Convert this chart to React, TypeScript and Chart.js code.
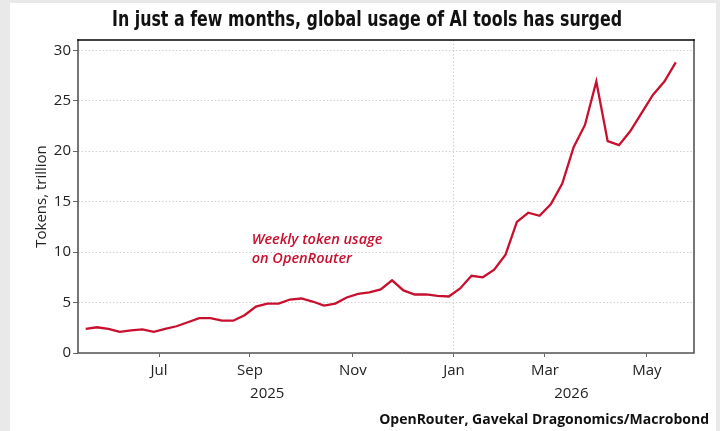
import React, { useEffect, useRef } from "react";
import { Chart, registerables } from "chart.js";

Chart.register(...registerables);

// ---- data (weekly, index 0 = late May 2025) ----
const tokensTrillion = [
  2.4, 2.55, 2.4, 2.1, 2.25, 2.35, 2.1, 2.4, 2.65, 3.05,
  3.45, 3.45, 3.2, 3.2, 3.75, 4.6, 4.9, 4.9, 5.3, 5.4,
  5.1, 4.7, 4.9, 5.5, 5.85, 6.0, 6.3, 7.2, 6.2, 5.8,
  5.8, 5.67, 5.6, 6.4, 7.65, 7.5, 8.25, 9.75, 13.0, 13.9,
  13.6, 14.75, 16.8, 20.4, 22.6, 26.9, 21.0, 20.6, 22.0, 23.8,
  25.6, 26.9, 28.8,
];
const monthTickPos = [6.46, 14.47, 23.55, 32.45, 40.47, 49.46];
const monthTickLabels = ["Jul", "Sep", "Nov", "Jan", "Mar", "May"];
const yearTickPos = [16.0, 42.8];
const yearTickLabels = ["2025", "2026"];
const yearBoundary = 32.45;
const yTicks = [0, 5, 10, 15, 20, 25, 30];
const annotationLines = ["Weekly token usage", "on OpenRouter"];
const annotationX = 14.63;
const annotationY = [11.2, 9.3];

const TITLE = "In just a few months, global usage of AI tools has surged";
const SOURCE = "OpenRouter, Gavekal Dragonomics/Macrobond";
const Y_TITLE = "Tokens, trillion";

const RED = "#c8102e";
const BASE_FONT = '"Open Sans", "Noto Sans", sans-serif';
const TITLE_FONT = '"Liberation Sans Narrow", "DejaVu Sans Condensed", "Open Sans", sans-serif';

export default function App() {
  const canvasRef = useRef<HTMLCanvasElement | null>(null);

  useEffect(() => {
    document.body.style.margin = "0";
    const canvas = canvasRef.current;
    if (!canvas) return;

    const framePlugin = {
      id: "frame",
      beforeDatasetsDraw(chart: any) {
        const { ctx, chartArea: a } = chart;
        ctx.save();
        ctx.lineCap = "square";
        ctx.strokeStyle = "#555";
        ctx.lineWidth = 1.6;
        ctx.beginPath();
        ctx.moveTo(a.left, a.top);
        ctx.lineTo(a.left, a.bottom);
        ctx.lineTo(a.right, a.bottom);
        ctx.lineTo(a.right, a.top);
        ctx.stroke();
        ctx.strokeStyle = "#000";
        ctx.lineWidth = 1.6;
        ctx.beginPath();
        ctx.moveTo(a.left, a.top);
        ctx.lineTo(a.right, a.top);
        ctx.stroke();
        ctx.restore();
      },
    };

    const textPlugin = {
      id: "texts",
      afterDraw(chart: any) {
        const { ctx, scales } = chart;
        ctx.save();
        ctx.fillStyle = "#111";
        ctx.font = `bold 21px ${TITLE_FONT}`;
        ctx.textAlign = "center";
        ctx.textBaseline = "alphabetic";
        const w = ctx.measureText(TITLE).width;
        const sx = Math.min(1, 510 / w);
        ctx.save();
        ctx.scale(sx, 1);
        ctx.fillText(TITLE, 367 / sx, 26);
        ctx.restore();
        ctx.font = `bold 14px ${BASE_FONT}`;
        ctx.textAlign = "right";
        ctx.fillText(SOURCE, 709, 424);
        ctx.fillStyle = RED;
        ctx.font = `italic 600 14.5px ${BASE_FONT}`;
        ctx.textAlign = "left";
        ctx.textBaseline = "middle";
        const ax = scales.x.getPixelForValue(annotationX);
        annotationLines.forEach((t, i) => {
          ctx.fillText(t, ax, scales.y.getPixelForValue(annotationY[i]));
        });
        ctx.restore();
      },
    };

    const chart = new Chart(canvas, {
      type: "line",
      data: {
        datasets: [
          {
            label: "Weekly token usage on OpenRouter",
            data: tokensTrillion.map((v, i) => ({ x: i, y: v })),
            borderColor: RED,
            borderWidth: 2.3,
            pointRadius: 0,
            tension: 0,
            fill: false,
          },
        ],
      },
      options: {
        responsive: false,
        animation: false,
        layout: { padding: { left: 0, right: 26, top: 40, bottom: 25 } },
        plugins: {
          legend: { display: false },
          tooltip: { enabled: false },
          title: { display: false },
        },
        scales: {
          x: {
            type: "linear",
            min: -0.68,
            max: 53.61,
            afterBuildTicks: (s: any) => {
              s.ticks = monthTickPos.map((v) => ({ value: v }));
            },
            afterFit: (s: any) => {
              s.height = 26;
            },
            ticks: {
              autoSkip: false,
              maxRotation: 0,
              padding: 5,
              color: "#222",
              font: { family: BASE_FONT, size: 15 },
              callback: (_v: any, i: number) => monthTickLabels[i],
            },
            grid: {
              drawOnChartArea: true,
              color: (c: any) =>
                c.tick && Math.abs(c.tick.value - yearBoundary) < 1e-6 ? "#d0d0d0" : "rgba(0,0,0,0)",
              lineWidth: 1,
              tickLength: 4,
              tickColor: "#666",
              tickWidth: 1,
            },
            border: { display: false, dash: [1.5, 2] },
          },
          x2: {
            type: "linear",
            position: "bottom",
            min: -0.68,
            max: 53.61,
            afterBuildTicks: (s: any) => {
              s.ticks = yearTickPos.map((v) => ({ value: v }));
            },
            afterFit: (s: any) => {
              s.height = 27;
            },
            ticks: {
              autoSkip: false,
              maxRotation: 0,
              padding: 6,
              color: "#222",
              font: { family: BASE_FONT, size: 15 },
              callback: (_v: any, i: number) => yearTickLabels[i],
            },
            grid: { display: false, drawTicks: false },
            border: { display: false },
          },
          y: {
            type: "linear",
            min: 0,
            max: 31.02,
            afterBuildTicks: (s: any) => {
              s.ticks = yTicks.map((v) => ({ value: v }));
            },
            afterFit: (s: any) => {
              s.width = 78;
            },
            ticks: {
              padding: 2,
              color: "#222",
              font: { family: BASE_FONT, size: 15 },
            },
            grid: {
              color: "#d0d0d0",
              lineWidth: 1,
              tickLength: 5,
              tickColor: "#666",
              tickWidth: 1,
            },
            border: { display: false, dash: [1.5, 2] },
            title: {
              display: true,
              text: Y_TITLE,
              color: "#222",
              font: { family: BASE_FONT, size: 15 },
              padding: { top: 33, bottom: 0 },
            },
          },
        },
      },
      plugins: [framePlugin, textPlugin],
    });

    return () => chart.destroy();
  }, []);

  return (
    <div style={{ position: "relative", width: 720, height: 431, background: "#e9e9e9", overflow: "hidden" }}>
      <div style={{ position: "absolute", left: 10, top: 3, width: 706, height: 428, background: "#fff" }} />
      <canvas
        ref={canvasRef}
        width={720}
        height={431}
        style={{ position: "absolute", left: 0, top: 0, width: 720, height: 431 }}
      />
    </div>
  );
}
